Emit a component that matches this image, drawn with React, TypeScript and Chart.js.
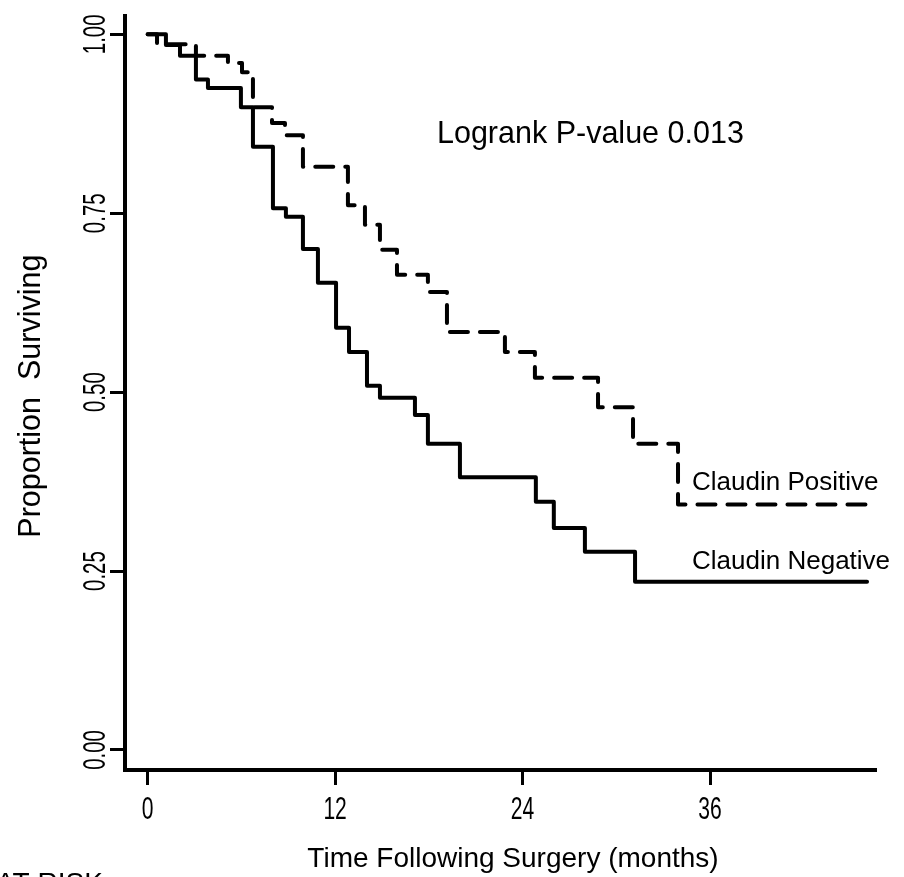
import React, { useEffect, useRef } from "react";
import { Chart, registerables } from "chart.js";

Chart.register(...registerables);

// Claudin Negative (solid) — Kaplan-Meier steps: time (months), survival after the step
const timesNeg = [0, 1.17, 2.07, 3.09, 3.86, 5.97, 6.74, 8.02, 8.85, 9.94, 10.9, 12.06, 12.89, 14.04, 14.87, 17.11, 17.94, 19.99, 24.85, 26.0, 27.99, 31.2, 46.05];
const survNeg = [1.0, 0.985, 0.97, 0.937, 0.925, 0.898, 0.843, 0.757, 0.745, 0.7, 0.653, 0.59, 0.556, 0.509, 0.492, 0.468, 0.428, 0.381, 0.347, 0.31, 0.277, 0.235, 0.235];

// Claudin Positive (dashed)
const timesPos = [0, 0.6, 3.09, 5.14, 6.04, 6.74, 7.96, 8.79, 9.94, 12.82, 13.91, 14.87, 15.96, 17.94, 19.16, 22.87, 24.79, 28.83, 31.07, 33.95, 46.56];
const survPos = [1.0, 0.986, 0.97, 0.96, 0.947, 0.898, 0.876, 0.859, 0.815, 0.761, 0.734, 0.699, 0.664, 0.64, 0.584, 0.556, 0.52, 0.479, 0.428, 0.343, 0.343];

const xTicks = [0, 12, 24, 36];
const yTicks = [0, 0.25, 0.5, 0.75, 1.0];

const xTitle = "Time Following Surgery (months)";
const yTitle = "Proportion  Surviving";
const pValueText = "Logrank P-value 0.013";
const labelPos = "Claudin Positive";
const labelNeg = "Claudin Negative";
const atRiskText = "AT RISK";

const FONT = '"Liberation Sans", Arial, Helvetica, sans-serif';

const textPlugin = {
  id: "kmText",
  afterDraw(chart: any) {
    const ctx = chart.ctx;
    const xs = chart.scales.x;
    const ys = chart.scales.y;
    const area = chart.chartArea;
    ctx.save();
    ctx.fillStyle = "#000";

    // x tick labels (condensed)
    ctx.font = `31px ${FONT}`;
    ctx.textAlign = "center";
    ctx.textBaseline = "alphabetic";
    xs.ticks.forEach((t: any) => {
      const px = xs.getPixelForValue(t.value);
      ctx.save();
      ctx.translate(px, area.bottom + 49);
      ctx.scale(0.68, 1);
      ctx.fillText(String(t.value), 0, 0);
      ctx.restore();
    });

    // y tick labels (rotated, condensed)
    ys.ticks.forEach((t: any) => {
      const py = ys.getPixelForValue(t.value);
      ctx.save();
      ctx.translate(area.left - 20, py);
      ctx.rotate(-Math.PI / 2);
      ctx.scale(0.66, 1);
      ctx.fillText(Number(t.value).toFixed(2), 0, 0);
      ctx.restore();
    });

    // axis titles
    ctx.font = `28px ${FONT}`;
    ctx.textAlign = "center";
    ctx.fillText(xTitle, (area.left + area.right) / 2 + 13, area.bottom + 97);

    ctx.save();
    ctx.font = `30.5px ${FONT}`;
    ctx.translate(40, ys.getPixelForValue(0.5) + 4);
    ctx.rotate(-Math.PI / 2);
    ctx.fillText(yTitle, 0, 0);
    ctx.restore();

    // annotations in data coordinates
    ctx.textAlign = "left";
    ctx.font = `30.5px ${FONT}`;
    ctx.fillText(pValueText, xs.getPixelForValue(18.52), ys.getPixelForValue(0.848));
    ctx.font = `26px ${FONT}`;
    ctx.fillText(labelPos, xs.getPixelForValue(34.85), ys.getPixelForValue(0.363));
    ctx.fillText(labelNeg, xs.getPixelForValue(34.85), ys.getPixelForValue(0.253));

    // cut-off "AT RISK" header at the bottom-left
    ctx.font = `28px ${FONT}`;
    ctx.fillText(atRiskText, -4, chart.height + 15);
    ctx.restore();
  },
};

export default function App() {
  const ref = useRef<HTMLCanvasElement | null>(null);

  useEffect(() => {
    document.body.style.margin = "0";
    const canvas = ref.current;
    if (!canvas) return;
    const chart = new Chart(canvas, {
      type: "line",
      data: {
        datasets: [
          {
            label: labelNeg,
            data: timesNeg.map((t, i) => ({ x: t, y: survNeg[i] })),
            borderColor: "#000",
            borderWidth: 4,
            stepped: true,
            pointRadius: 0,
            fill: false,
            borderCapStyle: "round",
            borderJoinStyle: "round",
          },
          {
            label: labelPos,
            data: timesPos.map((t, i) => ({ x: t, y: survPos[i] })),
            borderColor: "#000",
            borderWidth: 4,
            borderDash: [18, 12],
            stepped: true,
            pointRadius: 0,
            fill: false,
            borderCapStyle: "round",
            borderJoinStyle: "round",
          },
        ],
      },
      options: {
        animation: false,
        responsive: false,
        devicePixelRatio: 1,
        layout: { padding: { top: 16, right: 29, left: 0, bottom: 0 } },
        plugins: { legend: { display: false }, tooltip: { enabled: false }, title: { display: false } },
        scales: {
          x: {
            type: "linear",
            min: -1.45,
            max: 46.56,
            afterBuildTicks: (s: any) => {
              s.ticks = xTicks.map((v) => ({ value: v }));
            },
            afterFit: (s: any) => {
              s.height = 107;
            },
            ticks: { display: false },
            grid: { display: true, drawOnChartArea: false, drawTicks: true, tickLength: 15, color: "#000", lineWidth: 3 },
            border: { display: true, color: "#000", width: 4 },
          },
          y: {
            type: "linear",
            min: -0.028,
            max: 1.0256,
            afterBuildTicks: (s: any) => {
              s.ticks = yTicks.map((v) => ({ value: v }));
            },
            afterFit: (s: any) => {
              s.width = 125;
            },
            ticks: { display: false },
            grid: { display: true, drawOnChartArea: false, drawTicks: true, tickLength: 15, color: "#000", lineWidth: 3 },
            border: { display: true, color: "#000", width: 4 },
          },
        },
      },
      plugins: [textPlugin],
    });
    return () => chart.destroy();
  }, []);

  return (
    <div style={{ width: 904, height: 877, background: "#fff" }}>
      <canvas ref={ref} width={904} height={877} style={{ display: "block" }} />
    </div>
  );
}
